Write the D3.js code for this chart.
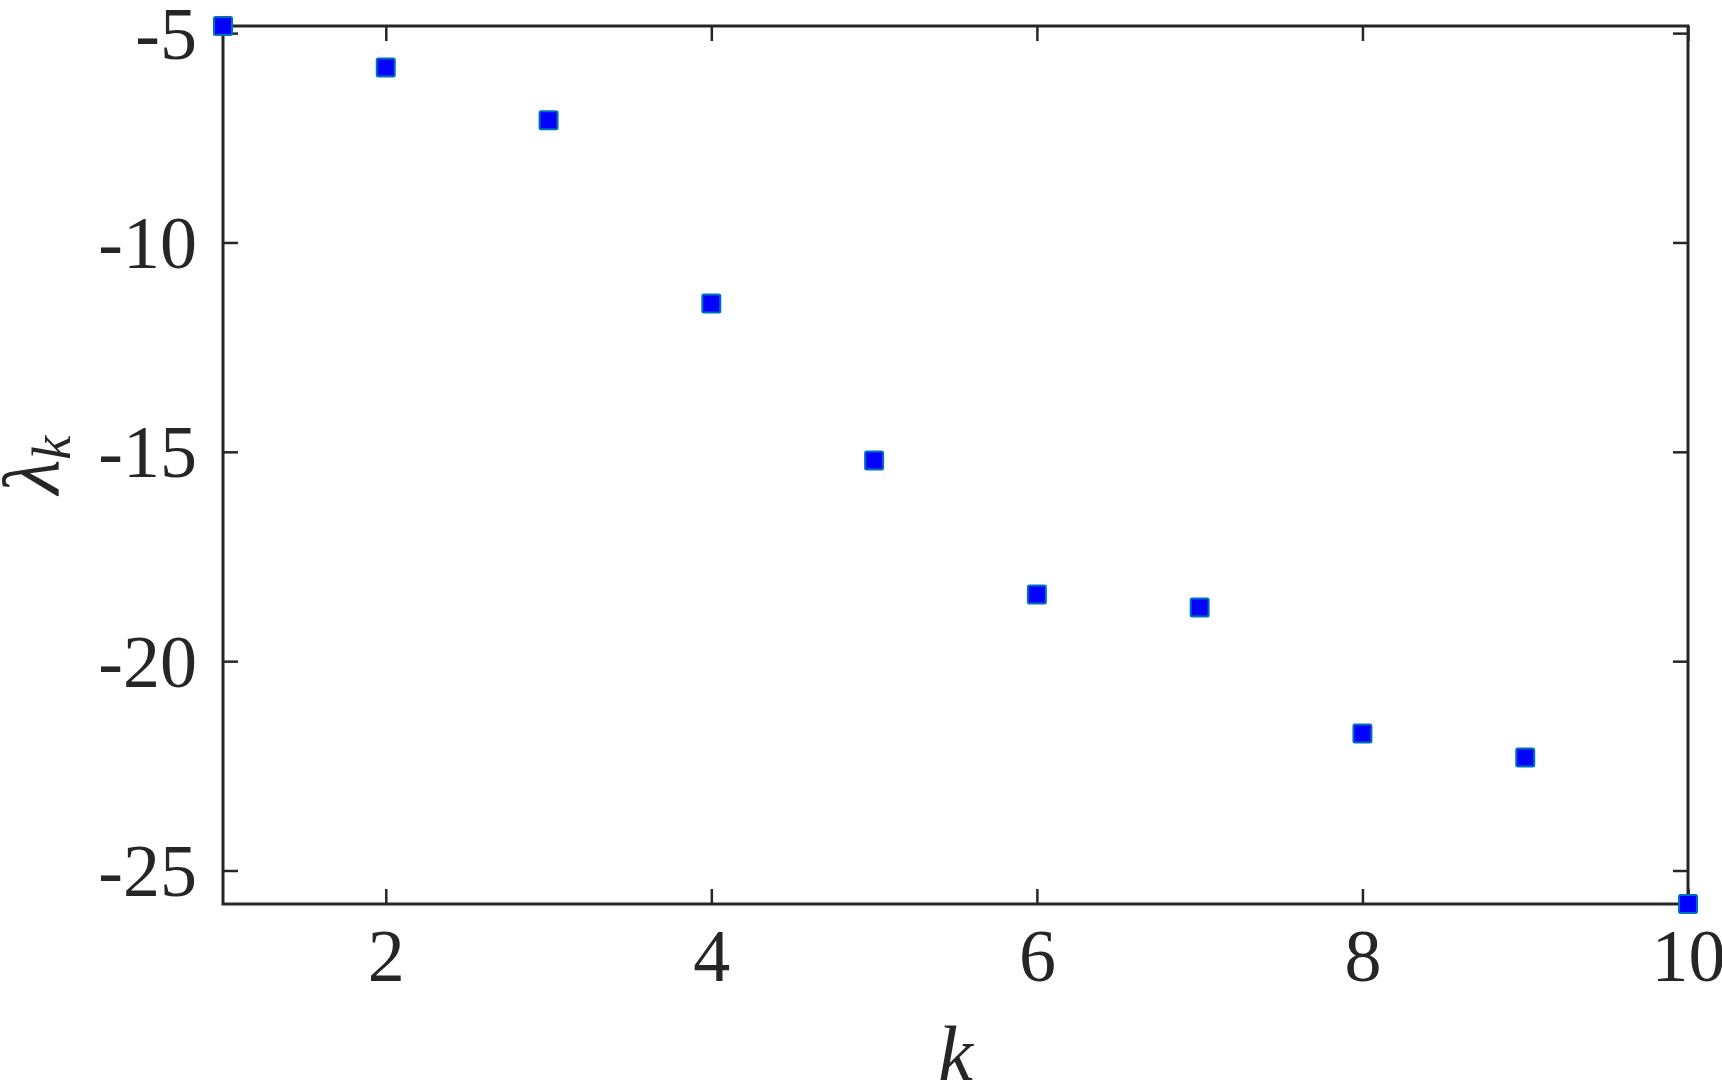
<!DOCTYPE html>
<html>
<head>
<meta charset="utf-8">
<script src="https://cdn.jsdelivr.net/npm/d3@7"></script>
<style>
  body { margin: 0; background: #fff; }
</style>
</head>
<body>
<svg id="chart" width="1722" height="1091"></svg>
<script>
// eigenvalues lambda_k
var kValues = [1, 2, 3, 4, 5, 6, 7, 8, 9, 10];
var lambdaValues = [-4.83, -5.82, -7.08, -11.46, -15.21, -18.41, -18.72, -21.73, -22.30, -25.80];
var xTicks = [2, 4, 6, 8, 10];
var yTicks = [-5, -10, -15, -20, -25];

var margin = {left: 223, right: 34, top: 26, bottom: 187};
var width = 1722, height = 1091;
var axisColor = '#262626';
var serif = 'Liberation Serif';

var svg = d3.select('#chart');

var x = d3.scaleLinear()
    .domain([1, 10])
    .range([margin.left, width - margin.right]);

// axis limits are tight to the data, like matlab's "axis tight"
var y = d3.scaleLinear()
    .domain([d3.min(lambdaValues), d3.max(lambdaValues)])
    .range([height - margin.bottom, margin.top]);

var tickLen = 15;

function styleTicks(g) {
    g.attr('font-family', serif);
    g.select('.domain').remove();
    g.selectAll('line').attr('stroke', axisColor).attr('stroke-width', 2.5);
    g.selectAll('text').attr('font-size', 74).attr('fill', axisColor)
        .style('font-family', serif);
}

// bottom axis + labels
svg.append('g')
    .attr('transform', 'translate(0,' + y.range()[0] + ')')
    .call(d3.axisBottom(x).tickValues(xTicks).tickSize(-tickLen).tickPadding(24).tickFormat(d3.format('d')))
    .call(styleTicks)
    .call(function (g) { g.selectAll('text').attr('dy', '0.71em'); });

// top ticks
svg.append('g')
    .attr('transform', 'translate(0,' + y.range()[1] + ')')
    .call(d3.axisTop(x).tickValues(xTicks).tickSize(-tickLen).tickFormat(''))
    .call(styleTicks);

// left axis + labels
svg.append('g')
    .attr('transform', 'translate(' + x.range()[0] + ',0)')
    .call(d3.axisLeft(y).tickValues(yTicks).tickSize(-tickLen).tickPadding(26).tickFormat(function (d) { return '' + d; }))
    .call(styleTicks)
    .call(function (g) { g.selectAll('text').attr('dy', '0.34em'); });

// right ticks
svg.append('g')
    .attr('transform', 'translate(' + x.range()[1] + ',0)')
    .call(d3.axisRight(y).tickValues(yTicks).tickSize(-tickLen).tickFormat(''))
    .call(styleTicks);

// box
svg.append('rect')
    .attr('x', x.range()[0])
    .attr('y', y.range()[1])
    .attr('width', x.range()[1] - x.range()[0])
    .attr('height', y.range()[0] - y.range()[1])
    .attr('fill', 'none')
    .attr('stroke', axisColor)
    .attr('stroke-width', 3);

// axis titles
svg.append('text')
    .attr('x', (x.range()[0] + x.range()[1]) / 2)
    .attr('y', 1080)
    .attr('text-anchor', 'middle')
    .attr('font-size', 78)
    .attr('font-style', 'italic')
    .attr('fill', axisColor)
    .style('font-family', serif)
    .text('k');

var yLabel = svg.append('text')
    .attr('transform', 'translate(58,' + ((y.range()[0] + y.range()[1]) / 2) + ') rotate(-90)')
    .attr('text-anchor', 'middle')
    .attr('font-size', 80)
    .attr('font-style', 'italic')
    .attr('fill', axisColor)
    .style('font-family', serif);
yLabel.append('tspan').text('λ');
yLabel.append('tspan').attr('font-size', 54).attr('dy', 12).text('k');

// markers
var ms = 18;
svg.append('g')
    .selectAll('rect')
    .data(kValues)
    .enter().append('rect')
    .attr('x', function (d) { return x(d) - ms / 2; })
    .attr('y', function (d, i) { return y(lambdaValues[i]) - ms / 2; })
    .attr('width', ms)
    .attr('height', ms)
    .attr('rx', 1.5)
    .attr('fill', '#0000ff')
    .attr('stroke', '#0072bd')
    .attr('stroke-width', 2);
</script>
</body>
</html>
